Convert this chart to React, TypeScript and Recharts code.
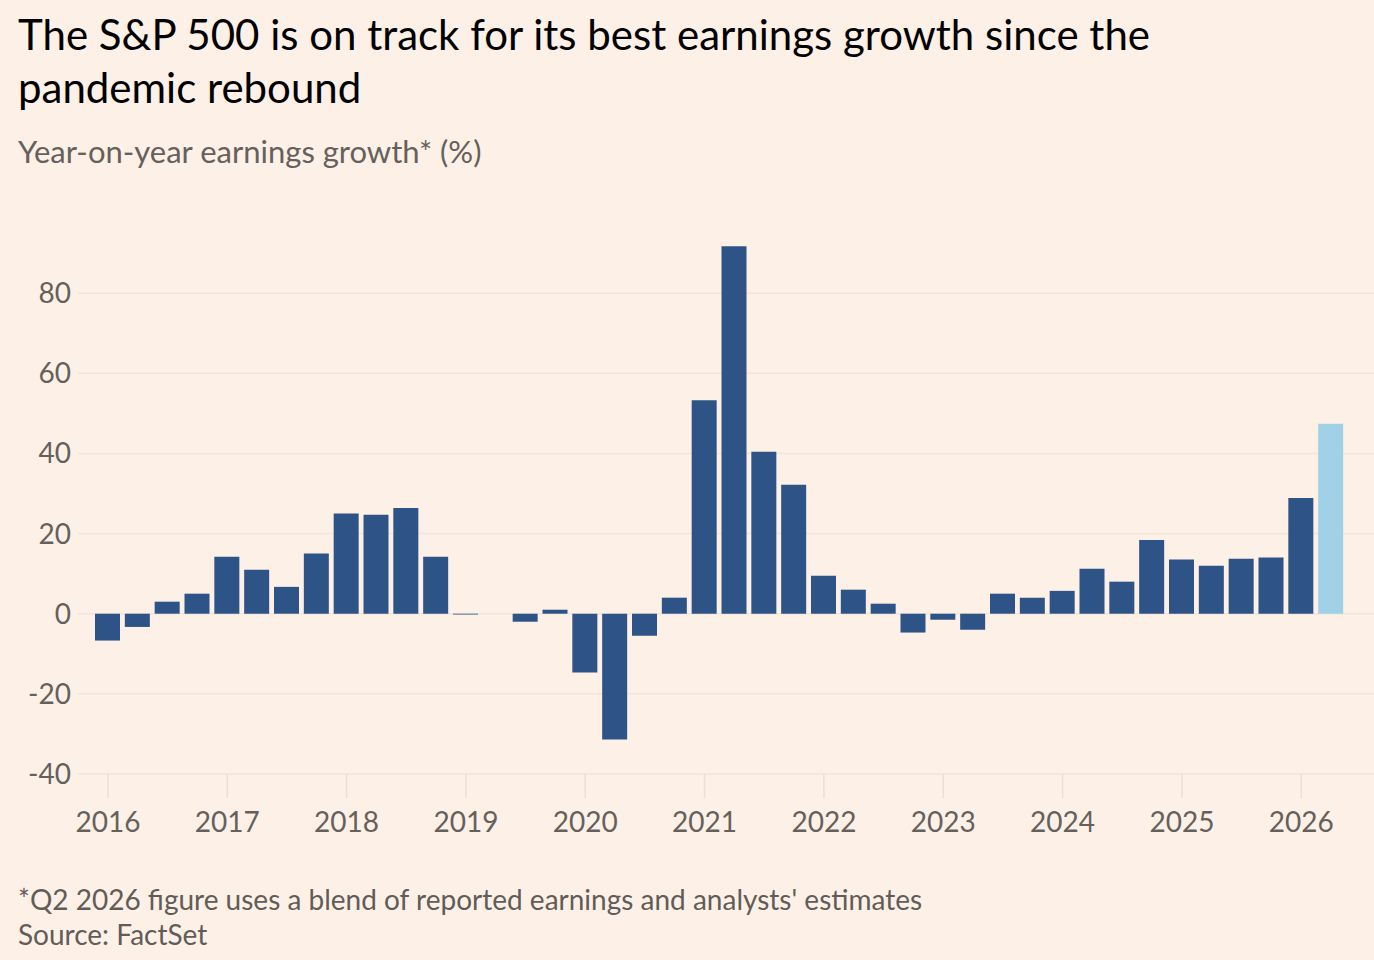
import React from "react";
import { BarChart, Bar, Cell, XAxis, YAxis, CartesianGrid } from "recharts";

const FONT = "Lato, 'Noto Sans', sans-serif";
const BG = "#fdf1e7";

const YEARS = [2016, 2017, 2018, 2019, 2020, 2021, 2022, 2023, 2024, 2025, 2026];
const QUARTERS = ["Q1", "Q2", "Q3", "Q4"];

// Year-on-year earnings growth (%), 2016 Q1 .. 2026 Q2
const GROWTH = [
  -6.7, -3.3, 3.0, 5.0,
  14.2, 11.0, 6.7, 15.0,
  25.0, 24.7, 26.4, 14.2,
  -0.2, 0.0, -2.0, 1.0,
  -14.7, -31.4, -5.5, 4.0,
  53.3, 91.7, 40.4, 32.2,
  9.5, 6.0, 2.5, -4.7,
  -1.5, -4.0, 5.0, 4.0,
  5.7, 11.2, 8.0, 18.4,
  13.5, 12.0, 13.7, 14.0,
  28.9, 47.4,
];
// the last quarter is a blend of reported earnings and estimates
const ESTIMATED = ["2026 Q2"];

const Y_TICKS = [-40, -20, 0, 20, 40, 60, 80];

const data = GROWTH.map((value, i) => {
  const year = YEARS[Math.floor(i / 4)];
  return { quarter: `${year} ${QUARTERS[i % 4]}`, year: String(year), value };
});

export default function App() {
  return (
    <div
      style={{
        position: "fixed",
        left: 0,
        top: 0,
        width: 1374,
        height: 960,
        background: BG,
        fontFamily: FONT,
        overflow: "hidden",
      }}
    >
      <div
        style={{
          position: "absolute",
          left: 18,
          top: 8,
          fontSize: 42,
          lineHeight: "53px",
          color: "#000",
          width: 1300,
        }}
      >
        The S&amp;P 500 is on track for its best earnings growth since the
        <br />
        pandemic rebound
      </div>
      <div
        style={{
          position: "absolute",
          left: 18,
          top: 133,
          fontSize: 31,
          lineHeight: "37px",
          color: "#66605c",
        }}
      >
        Year-on-year earnings growth* (%)
      </div>

      <div style={{ position: "absolute", left: 0, top: 0 }}>
        <BarChart
          width={1374}
          height={960}
          data={data}
          margin={{ top: 213, right: 0, bottom: 0, left: 0 }}
        >
          <CartesianGrid
            vertical={false}
            horizontalValues={Y_TICKS}
            stroke="#f1e5da"
            strokeWidth={1.5}
          />
          <XAxis
            dataKey="quarter"
            interval={3}
            tickFormatter={(q: string) => q.slice(0, 4)}
            height={186}
            padding={{ left: 15, right: 28 }}
            axisLine={false}
            tickLine={{ stroke: "#ebdfd5", strokeWidth: 1.5 }}
            tickSize={24}
            tickMargin={14}
            tick={{ fill: "#66605c", fontSize: 28, fontFamily: FONT }}
          />
          <YAxis
            domain={[-40, 100]}
            ticks={Y_TICKS}
            width={78}
            axisLine={false}
            tickLine={false}
            tickSize={0}
            tickMargin={7}
            tick={{ fill: "#66605c", fontSize: 28, fontFamily: FONT }}
          />
          <Bar dataKey="value" barSize={25} isAnimationActive={false}>
            {data.map((d) => (
              <Cell
                key={d.quarter}
                fill={ESTIMATED.includes(d.quarter) ? "#a1d1e6" : "#2d5387"}
              />
            ))}
          </Bar>
        </BarChart>
      </div>

      <div
        style={{
          position: "absolute",
          left: 18,
          top: 882,
          fontSize: 28,
          lineHeight: "35px",
          color: "#625c58",
        }}
      >
        *Q2 2026 figure uses a blend of reported earnings and analysts' estimates
        <br />
        Source: FactSet
      </div>
    </div>
  );
}
